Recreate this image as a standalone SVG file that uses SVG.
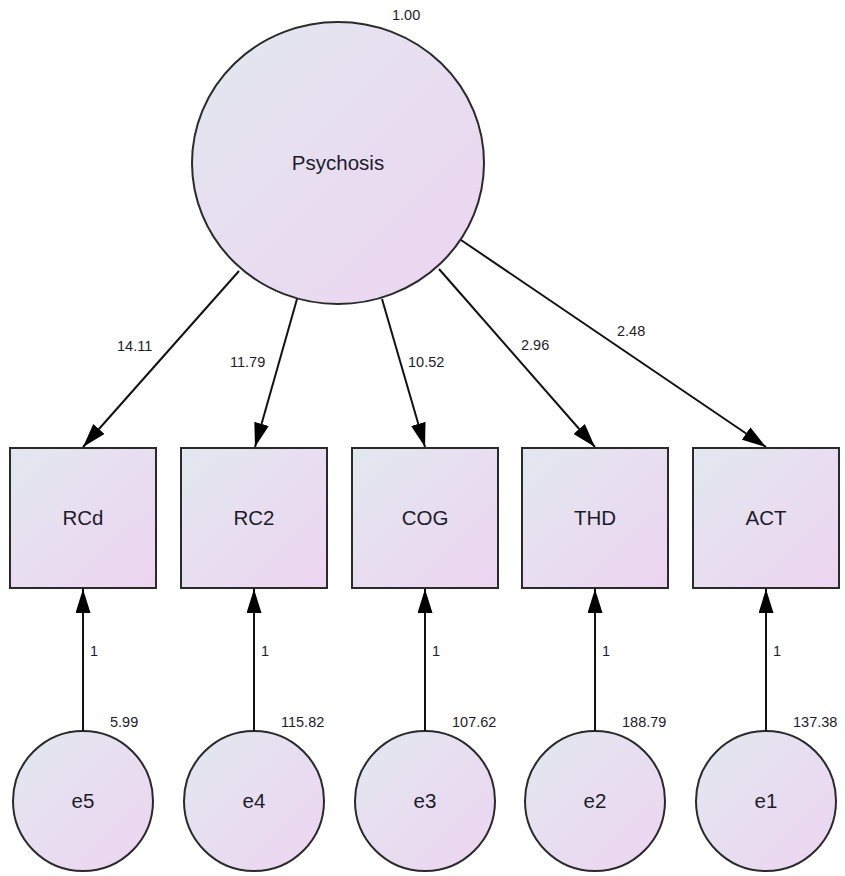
<svg xmlns="http://www.w3.org/2000/svg" width="845" height="876" viewBox="0 0 845 876">
<defs>
<linearGradient id="g" x1="0" y1="0" x2="1" y2="1">
<stop offset="0" stop-color="#e2e8ef"/>
<stop offset="1" stop-color="#edd4f1"/>
</linearGradient>
<marker id="ah" viewBox="0 0 24 15" refX="24" refY="7.5" markerWidth="24" markerHeight="15" markerUnits="userSpaceOnUse" orient="auto">
<path d="M0,0 L24,7.5 L0,15 Z" fill="#000"/>
</marker>
<style>
.n{fill:url(#g);stroke:#2a2a2a;stroke-width:2}
.t{font-family:"Liberation Sans",Arial,sans-serif;font-size:20.5px;fill:#1c1c2a;text-anchor:middle}
.l{font-family:"Liberation Sans",Arial,sans-serif;font-size:14.5px;fill:#1c1c2a}
.c{fill:none;stroke:#111;stroke-width:2;marker-end:url(#ah)}
</style>
</defs>
<rect width="845" height="876" fill="#fff"/>
<g id="Psychosis">
<ellipse class="n" cx="338" cy="163" rx="146" ry="141"/>
<text class="t" x="338" y="170">Psychosis</text>
<text class="l" x="392" y="20">1.00</text>
</g>
<g id="RCd"><rect class="n" x="10" y="448" width="146" height="140"/><text class="t" x="83" y="525">RCd</text></g>
<g id="RC2"><rect class="n" x="181" y="448" width="146" height="140"/><text class="t" x="254" y="525">RC2</text></g>
<g id="COG"><rect class="n" x="352" y="448" width="146" height="140"/><text class="t" x="425" y="525">COG</text></g>
<g id="THD"><rect class="n" x="522" y="448" width="146" height="140"/><text class="t" x="595" y="525">THD</text></g>
<g id="ACT"><rect class="n" x="693" y="448" width="146" height="140"/><text class="t" x="766" y="525">ACT</text></g>
<g id="e5"><circle class="n" cx="83" cy="801" r="70"/><text class="t" x="83" y="808">e5</text><text class="l" x="110" y="727">5.99</text></g>
<g id="e4"><circle class="n" cx="254" cy="801" r="70"/><text class="t" x="254" y="808">e4</text><text class="l" x="281" y="727">115.82</text></g>
<g id="e3"><circle class="n" cx="425" cy="801" r="70"/><text class="t" x="425" y="808">e3</text><text class="l" x="452" y="727">107.62</text></g>
<g id="e2"><circle class="n" cx="595" cy="801" r="70"/><text class="t" x="595" y="808">e2</text><text class="l" x="622" y="727">188.79</text></g>
<g id="e1"><circle class="n" cx="766" cy="801" r="70"/><text class="t" x="766" y="808">e1</text><text class="l" x="793" y="727">137.38</text></g>
<g id="connectors">
<line class="c" x1="239" y1="271" x2="83" y2="447"/>
<line class="c" x1="297" y1="299" x2="255" y2="447"/>
<line class="c" x1="382" y1="299" x2="425" y2="447"/>
<line class="c" x1="439" y1="269" x2="595" y2="447"/>
<line class="c" x1="461" y1="240" x2="766" y2="447"/>
<line class="c" x1="83" y1="731" x2="83" y2="589"/>
<line class="c" x1="254" y1="731" x2="254" y2="589"/>
<line class="c" x1="425" y1="731" x2="425" y2="589"/>
<line class="c" x1="595" y1="731" x2="595" y2="589"/>
<line class="c" x1="766" y1="731" x2="766" y2="589"/>
<text class="l" x="117" y="351">14.11</text>
<text class="l" x="230" y="367">11.79</text>
<text class="l" x="408" y="367">10.52</text>
<text class="l" x="521" y="350">2.96</text>
<text class="l" x="617" y="336">2.48</text>
<text class="l" x="90" y="656">1</text>
<text class="l" x="261" y="656">1</text>
<text class="l" x="432" y="656">1</text>
<text class="l" x="602" y="656">1</text>
<text class="l" x="773" y="656">1</text>
</g>
</svg>
